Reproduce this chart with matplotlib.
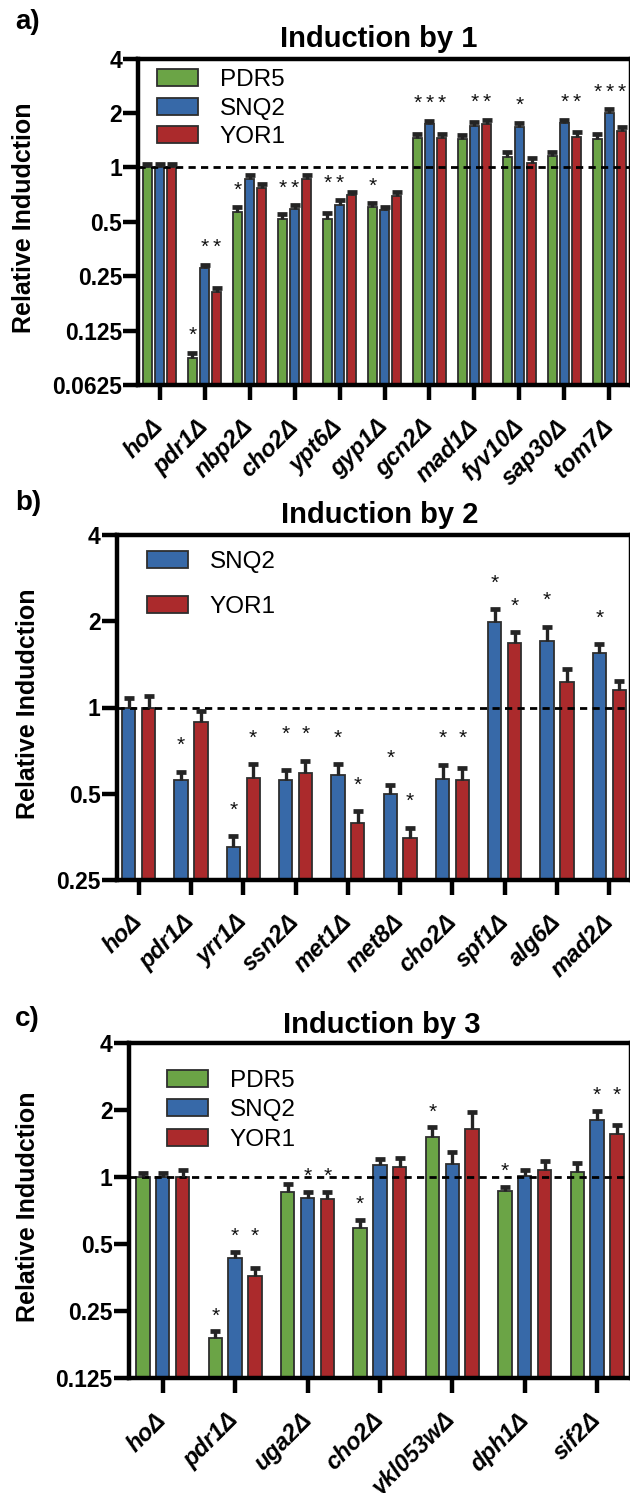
import matplotlib
matplotlib.use('Agg')
import matplotlib.pyplot as plt
import numpy as np
from matplotlib.ticker import NullLocator, FixedLocator, FixedFormatter

plt.rcParams['font.family'] = ['Liberation Sans', 'DejaVu Sans']

# ---------------- data ----------------
series_names = ['PDR5', 'SNQ2', 'YOR1']
series_colors = {'PDR5': '#6ba446', 'SNQ2': '#3769a8', 'YOR1': '#ab2a2c'}

# Panel a : Induction by 1
a_genes = ['ho', 'pdr1', 'nbp2', 'cho2', 'ypt6', 'gyp1', 'gcn2', 'mad1', 'fyv10', 'sap30', 'tom7']
a_pdr5 = [1.00, 0.088, 0.567, 0.521, 0.521, 0.604, 1.447, 1.427, 1.14, 1.15, 1.44]
a_snq2 = [1.00, 0.278, 0.863, 0.587, 0.622, 0.579, 1.73, 1.70, 1.68, 1.75, 1.99]
a_yor1 = [1.00, 0.205, 0.768, 0.863, 0.70, 0.694, 1.45, 1.74, 1.06, 1.48, 1.58]
a_pdr5_err = [0.05, 0.006, 0.035, 0.030, 0.040, 0.030, 0.08, 0.08, 0.07, 0.06, 0.08]
a_snq2_err = [0.04, 0.012, 0.040, 0.030, 0.035, 0.025, 0.08, 0.09, 0.09, 0.08, 0.10]
a_yor1_err = [0.05, 0.010, 0.040, 0.040, 0.035, 0.035, 0.07, 0.09, 0.06, 0.08, 0.09]
a_pdr5_sig = [0, 1, 1, 1, 1, 1, 1, 0, 0, 0, 1]
a_snq2_sig = [0, 1, 0, 1, 1, 0, 1, 1, 1, 1, 1]
a_yor1_sig = [0, 1, 0, 0, 0, 0, 1, 1, 0, 1, 1]

# Panel b : Induction by 2
b_genes = ['ho', 'pdr1', 'yrr1', 'ssn2', 'met1', 'met8', 'cho2', 'spf1', 'alg6', 'mad2']
b_snq2 = [1.00, 0.557, 0.325, 0.560, 0.582, 0.499, 0.565, 1.995, 1.71, 1.553]
b_yor1 = [1.00, 0.888, 0.567, 0.593, 0.394, 0.350, 0.560, 1.68, 1.228, 1.147]
b_snq2_err = [0.080, 0.038, 0.030, 0.045, 0.052, 0.037, 0.066, 0.205, 0.200, 0.107]
b_yor1_err = [0.096, 0.086, 0.067, 0.058, 0.040, 0.031, 0.057, 0.150, 0.132, 0.093]
b_snq2_sig = [0, 1, 1, 1, 1, 1, 1, 1, 1, 1]
b_yor1_sig = [0, 0, 1, 1, 1, 1, 1, 1, 0, 0]

# Panel c : Induction by 3
c_genes = ['ho', 'pdr1', 'uga2', 'cho2', 'ykl053w', 'dph1', 'sif2']
c_pdr5 = [1.00, 0.189, 0.857, 0.592, 1.52, 0.869, 1.06]
c_snq2 = [1.00, 0.432, 0.811, 1.135, 1.147, 1.017, 1.817]
c_yor1 = [1.00, 0.360, 0.800, 1.116, 1.645, 1.078, 1.562]
c_pdr5_err = [0.05, 0.014, 0.073, 0.053, 0.154, 0.040, 0.095]
c_snq2_err = [0.05, 0.030, 0.052, 0.073, 0.153, 0.061, 0.173]
c_yor1_err = [0.08, 0.032, 0.063, 0.100, 0.320, 0.109, 0.148]
c_pdr5_sig = [0, 1, 0, 1, 1, 1, 0]
c_snq2_sig = [0, 1, 1, 0, 0, 0, 1]
c_yor1_sig = [0, 1, 1, 0, 0, 0, 1]

a_yticks = [0.0625, 0.125, 0.25, 0.5, 1, 2, 4]
a_yticklabels = ['0.0625', '0.125', '0.25', '0.5', '1', '2', '4']
b_yticks = [0.25, 0.5, 1, 2, 4]
b_yticklabels = ['0.25', '0.5', '1', '2', '4']
c_yticks = [0.125, 0.25, 0.5, 1, 2, 4]
c_yticklabels = ['0.125', '0.25', '0.5', '1', '2', '4']

# ---------------- figure ----------------
W, H = 630, 1493
fig = plt.figure(figsize=(W / 100, H / 100), dpi=100)


def fx(px):
    return px / W


def fy(py):
    return 1 - py / H


EDGE = '#2e2e2e'


def star_levels(vals, errs, sigs, factor, align_ratio):
    """per-series star heights; stars in a group are aligned when close."""
    n = len(vals[0])
    levels = [[None] * n for _ in vals]
    for g in range(n):
        items = []
        for s in range(len(vals)):
            if sigs[s][g]:
                items.append((s, (vals[s][g] + errs[s][g]) * factor))
        items.sort(key=lambda t: t[1])
        clusters = []
        for s, lv in items:
            if clusters and lv / clusters[-1][0][1] < align_ratio:
                clusters[-1].append((s, lv))
            else:
                clusters.append([(s, lv)])
        for cl in clusters:
            top = max(l for _, l in cl)
            for s, _ in cl:
                levels[s][g] = top
    return levels


def draw_panel(rect, genes, names, vals, errs, sigs, width, offsets, xlim, ylim,
               yticks, yticklabels, star_factor, align_ratio):
    ax = fig.add_axes(rect)
    ax.set_yscale('log')
    x0 = np.arange(len(genes))
    handles = []
    for i, nm in enumerate(names):
        v = np.asarray(vals[i], dtype=float)
        e = np.asarray(errs[i], dtype=float)
        x = x0 + offsets[i]
        b = ax.bar(x, v - ylim[0], bottom=ylim[0], width=width,
                   color=series_colors[nm], edgecolor=EDGE, linewidth=1.3,
                   zorder=2, label=nm)
        handles.append(b)
        ax.vlines(x, v, v + e, color='#242424', linewidth=2.4, zorder=4)
        ax.plot(x, v + e, linestyle='none', marker='_', markersize=6.5,
                markeredgewidth=3.4, color='#242424', zorder=4)
    lv = star_levels(vals, errs, sigs, star_factor, align_ratio)
    for i in range(len(names)):
        for g in range(len(genes)):
            if lv[i][g] is not None:
                ax.annotate('*', xy=(g + offsets[i], lv[i][g]), xytext=(0, -8.5),
                            textcoords='offset points', ha='center', va='baseline',
                            fontsize=15, color='#111111', zorder=5)
    ax.axhline(1, color='black', linewidth=2.0, linestyle=(0, (2.6, 1.9)), zorder=3)
    ax.set_xlim(*xlim)
    ax.set_ylim(*ylim)
    ax.yaxis.set_major_locator(FixedLocator(yticks))
    ax.yaxis.set_major_formatter(FixedFormatter(yticklabels))
    ax.yaxis.set_minor_locator(NullLocator())
    ax.set_xticks(x0)
    ax.set_xticklabels([g + '\u0394' for g in genes], rotation=45, ha='right',
                       va='center', rotation_mode='anchor', fontsize=17,
                       fontweight='bold', fontstyle='italic')
    for lab in ax.get_yticklabels():
        lab.set_fontsize(16.5)
        lab.set_fontweight('bold')
    ax.tick_params(axis='y', which='major', length=10.5, width=3.2, pad=1)
    ax.tick_params(axis='x', which='major', length=10.5, width=3.2, pad=17)
    for sp in ax.spines.values():
        sp.set_linewidth(3.2)
        sp.set_color('black')
    return ax, handles


# ---- panel a ----
ax_a, h_a = draw_panel(
    [fx(138), fy(385), fx(631) - fx(138), (385 - 58.5) / H],
    a_genes, series_names,
    [a_pdr5, a_snq2, a_yor1], [a_pdr5_err, a_snq2_err, a_yor1_err],
    [a_pdr5_sig, a_snq2_sig, a_yor1_sig],
    width=0.20, offsets=[-0.273, 0, 0.273], xlim=(-0.478, 10.478),
    ylim=(0.0625, 4), yticks=a_yticks, yticklabels=a_yticklabels,
    star_factor=1.35, align_ratio=1.6)

# ---- panel b ----
ax_b, h_b = draw_panel(
    [fx(116.5), fy(880), fx(631) - fx(116.5), (880 - 535) / H],
    b_genes, ['SNQ2', 'YOR1'],
    [b_snq2, b_yor1], [b_snq2_err, b_yor1_err], [b_snq2_sig, b_yor1_sig],
    width=0.254, offsets=[-0.19, 0.19], xlim=(-0.423, 9.414),
    ylim=(0.25, 4), yticks=b_yticks, yticklabels=b_yticklabels,
    star_factor=1.3, align_ratio=1.1)

# ---- panel c ----
ax_c, h_c = draw_panel(
    [fx(128.6), fy(1378.3), fx(631) - fx(128.6), (1378.3 - 1043.3) / H],
    c_genes, series_names,
    [c_pdr5, c_snq2, c_yor1], [c_pdr5_err, c_snq2_err, c_yor1_err],
    [c_pdr5_sig, c_snq2_sig, c_yor1_sig],
    width=0.186, offsets=[-0.274, 0, 0.274], xlim=(-0.471, 6.468),
    ylim=(0.125, 4), yticks=c_yticks, yticklabels=c_yticklabels,
    star_factor=1.25, align_ratio=1.5)

# legends
leg_kw = dict(frameon=False, fontsize=17.5, handlelength=1.70, handleheight=0.70,
              handletextpad=0.90, borderpad=0, borderaxespad=0, loc='upper left',
              bbox_transform=fig.transFigure)
ax_a.legend(h_a, series_names, bbox_to_anchor=(fx(156.7), fy(69)), labelspacing=0.27, **leg_kw)
ax_b.legend(h_b, ['SNQ2', 'YOR1'], bbox_to_anchor=(fx(146.6), fy(551)), labelspacing=0.93, **leg_kw)
ax_c.legend(h_c, series_names, bbox_to_anchor=(fx(166.7), fy(1070)), labelspacing=0.30, **leg_kw)

# titles, panel letters, y labels
for (tx, ty, t) in [(378.5, 47, 'Induction by 1'), (380, 523, 'Induction by 2'),
                    (381.5, 1033, 'Induction by 3')]:
    fig.text(fx(tx), fy(ty), t, ha='center', va='baseline', fontsize=21, fontweight='bold')
for (tx, ty, t) in [(15, 29, 'a)'), (15, 510, 'b)'), (15, 1026, 'c)')]:
    fig.text(fx(tx), fy(ty), t, ha='left', va='baseline', fontsize=20, fontweight='bold')
for (tx, ty) in [(24, 218), (28, 704), (28, 1207)]:
    fig.text(fx(tx), fy(ty), 'Relative Indudction', rotation=90, ha='center', va='center',
             fontsize=18, fontweight='bold')

fig.savefig('out.png', dpi=100)
